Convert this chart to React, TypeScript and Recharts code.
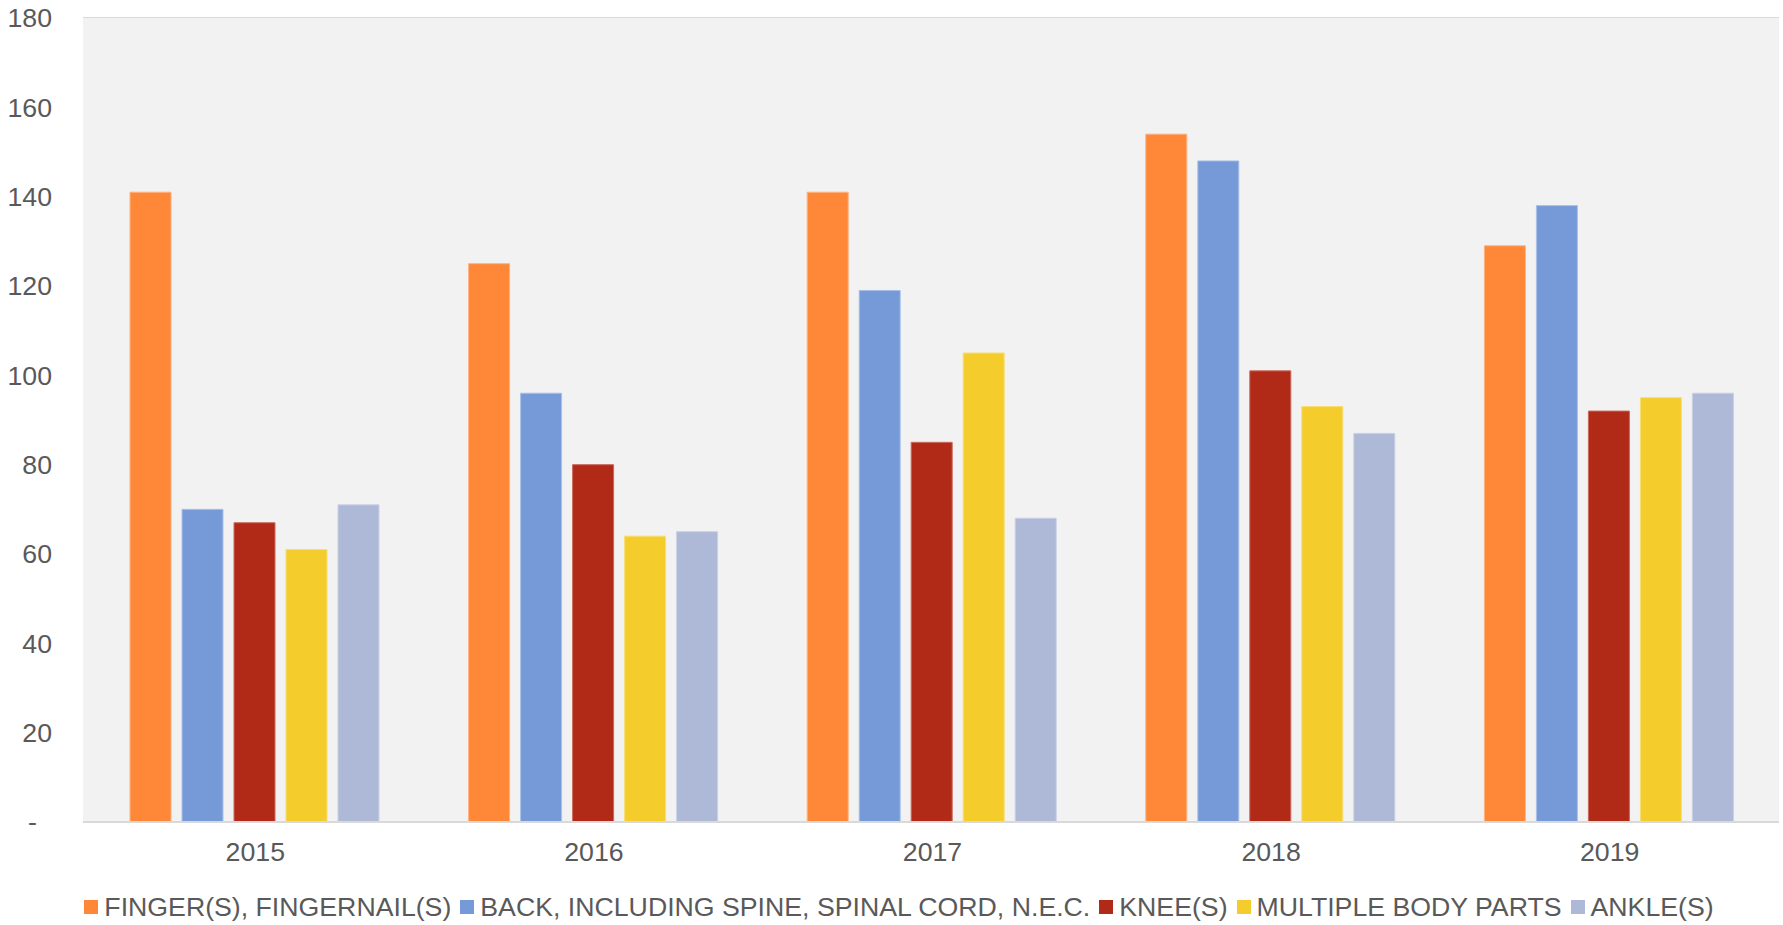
import React from "react";
import {
  BarChart,
  Bar,
  XAxis,
  YAxis,
  CartesianGrid,
  Legend,
} from "recharts";

const years = ["2015", "2016", "2017", "2018", "2019"];

const finger = [141, 125, 141, 154, 129];
const back = [70, 96, 119, 148, 138];
const knee = [67, 80, 85, 101, 92];
const multiple = [61, 64, 105, 93, 95];
const ankle = [71, 65, 68, 87, 96];

const yTicks = [0, 20, 40, 60, 80, 100, 120, 140, 160, 180];

const series = [
  { key: "finger", name: "FINGER(S), FINGERNAIL(S)", color: "#FE8837", edge: "#FFB27E" },
  { key: "back", name: "BACK, INCLUDING SPINE, SPINAL CORD, N.E.C.", color: "#7699D8", edge: "#A9C0E8" },
  { key: "knee", name: "KNEE(S)", color: "#B12A17", edge: "#C9695B" },
  { key: "multiple", name: "MULTIPLE BODY PARTS", color: "#F4CD2D", edge: "#F8DD72" },
  { key: "ankle", name: "ANKLE(S)", color: "#ADB9D7", edge: "#C8D1E6" },
];

const data = years.map((year, i) => ({
  year,
  finger: finger[i],
  back: back[i],
  knee: knee[i],
  multiple: multiple[i],
  ankle: ankle[i],
}));

const FONT = "'Liberation Sans', Arial, sans-serif";
const TEXT = "#595959";

function YTick(props: any) {
  const { x, y, payload } = props;
  if (payload.value === 0) {
    return (
      <text x={37} y={y} dy="0.35em" textAnchor="end" fill={TEXT} fontSize={26.7} fontFamily={FONT}>
        -
      </text>
    );
  }
  return (
    <text x={x} y={y} dy="0.35em" textAnchor="end" fill={TEXT} fontSize={26.7} fontFamily={FONT}>
      {payload.value}
    </text>
  );
}

// legend order follows the series list, not recharts' default sort
function LegendContent() {
  return (
    <div
      style={{
        height: 30,
        display: "flex",
        justifyContent: "center",
        alignItems: "center",
        paddingLeft: 28,
        fontFamily: FONT,
        fontSize: 26.7,
        color: TEXT,
        whiteSpace: "nowrap",
      }}
    >
      {series.map((s) => (
        <div key={s.key} style={{ display: "flex", alignItems: "center", marginRight: 9 }}>
          <span
            style={{
              display: "inline-block",
              width: 14,
              height: 14,
              background: s.color,
              marginRight: 6,
            }}
          />
          <span>{s.name}</span>
        </div>
      ))}
    </div>
  );
}

export default function App() {
  return (
    <div style={{ position: "absolute", left: 0, top: 0, background: "#fff" }}>
      <BarChart
        width={1783}
        height={925}
        data={data}
        margin={{ top: 18, right: 4, bottom: 3, left: 0 }}
        barCategoryGap={44}
        barGap={11}
      >
        <rect x={83} y={18} width={1696} height={804} fill="#F2F2F2" />
        <CartesianGrid vertical={false} stroke="#D9D9D9" strokeWidth={2} fill="#F2F2F2" />
        <XAxis
          dataKey="year"
          height={70}
          padding={{ left: 3, right: 0 }}
          axisLine={{ stroke: "#D9D9D9", strokeWidth: 2 }}
          tickLine={false}
          tickSize={0}
          tickMargin={20}
          tick={{ fill: TEXT, fontSize: 26.7, fontFamily: FONT }}
        />
        <YAxis
          width={83}
          domain={[0, 180]}
          ticks={yTicks}
          axisLine={false}
          tickLine={false}
          tickSize={0}
          tickMargin={31}
          tick={<YTick />}
        />
        <Legend verticalAlign="bottom" content={<LegendContent />} />
        {series.map((s) => (
          <Bar
            key={s.key}
            dataKey={s.key}
            name={s.name}
            fill={s.color}
            stroke={s.edge}
            strokeWidth={1}
            isAnimationActive={false}
          />
        ))}
      </BarChart>
    </div>
  );
}
